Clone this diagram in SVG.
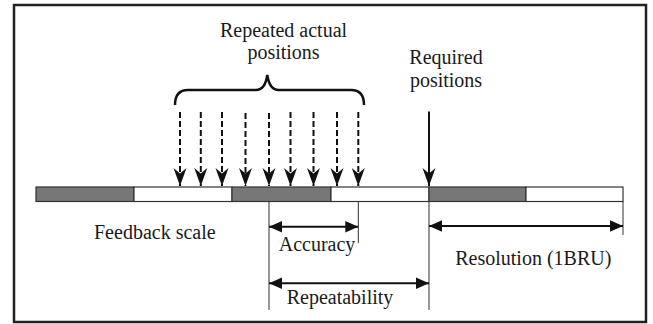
<svg xmlns="http://www.w3.org/2000/svg" width="653" height="324" viewBox="0 0 653 324">
  <style>
    .lbl { font-family: "Liberation Serif", "Times New Roman", serif; font-size: 20px; fill: #1a1a1a; }
    .dash { stroke: #111; stroke-width: 2; stroke-dasharray: 6 3; fill: none; }
    .solid { stroke: #111; stroke-width: 2; fill: none; }
    .dim { stroke: #111; stroke-width: 2; fill: none; }
    .ext { stroke: #333; stroke-width: 1; fill: none; }
    .dark { fill: #777777; stroke: #333; stroke-width: 1.2; }
    .light { fill: #ffffff; stroke: #333; stroke-width: 1.2; }
  </style>
  <defs>
    <marker id="stealth" markerUnits="userSpaceOnUse" viewBox="-19 -8 20 16" markerWidth="20" markerHeight="16" refX="0" refY="0" orient="auto">
      <path d="M0,0 L-18,-6.5 L-12.5,0 L-18,6.5 Z" fill="#111"/>
    </marker>
    <marker id="tri" markerUnits="userSpaceOnUse" viewBox="-14 -7 15 14" markerWidth="15" markerHeight="14" refX="0" refY="0" orient="auto-start-reverse">
      <path d="M0,0 L-13,-5.8 L-13,5.8 Z" fill="#111"/>
    </marker>
  </defs>

  <rect id="frame" x="14" y="5" width="632" height="317" fill="#fff" stroke="#222" stroke-width="2.5"/>

  <g id="feedback-scale">
    <rect class="dark" x="36" y="187" width="98" height="14.5"/>
    <rect class="light" x="134" y="187" width="98" height="14.5"/>
    <rect class="dark" x="232" y="187" width="99" height="14.5"/>
    <rect class="light" x="331" y="187" width="98" height="14.5"/>
    <rect class="dark" x="429" y="187" width="97" height="14.5"/>
    <rect class="light" x="526" y="187" width="97" height="14.5"/>
    <text class="lbl" x="94" y="238.5">Feedback scale</text>
  </g>

  <g id="repeated-actual-positions">
    <text class="lbl" x="283.5" y="37.3" text-anchor="middle">Repeated actual</text>
    <text class="lbl" x="283.5" y="59" text-anchor="middle">positions</text>
    <path d="M175,105 C175,96 178,90 188,90 L256,90 C263,90 266,84 267.3,75 C268.6,84 271.6,90 278.6,90 L351,90 C361,90 364,96 364,105" fill="none" stroke="#111" stroke-width="2.5"/>
  </g>

  <g id="required-positions">
    <text class="lbl" x="446" y="64" text-anchor="middle">Required</text>
    <text class="lbl" x="446" y="86.5" text-anchor="middle">positions</text>
  </g>

  <g id="connectors">
    <line class="dash" x1="180" y1="112" x2="180" y2="186" marker-end="url(#stealth)"/>
    <line class="dash" x1="200.8" y1="112" x2="200.8" y2="186" marker-end="url(#stealth)"/>
    <line class="dash" x1="222" y1="112" x2="222" y2="186" marker-end="url(#stealth)"/>
    <line class="dash" x1="245.5" y1="113" x2="245.5" y2="186" marker-end="url(#stealth)"/>
    <line class="dash" x1="269" y1="113" x2="269" y2="186" marker-end="url(#stealth)"/>
    <line class="dash" x1="290.5" y1="112" x2="290.5" y2="186" marker-end="url(#stealth)"/>
    <line class="dash" x1="313.5" y1="112" x2="313.5" y2="186" marker-end="url(#stealth)"/>
    <line class="dash" x1="337" y1="112" x2="337" y2="186" marker-end="url(#stealth)"/>
    <line class="dash" x1="358.3" y1="112" x2="358.3" y2="186" marker-end="url(#stealth)"/>
    <line class="solid" x1="429" y1="111.5" x2="429" y2="186" marker-end="url(#stealth)"/>

    <line class="ext" x1="269" y1="201.5" x2="269" y2="310"/>
    <line class="ext" x1="358.3" y1="201.5" x2="358.3" y2="243"/>
    <line class="ext" x1="429" y1="201.5" x2="429" y2="310"/>
    <line class="ext" x1="623" y1="201.5" x2="623" y2="235"/>

    <line class="dim" x1="269" y1="226.7" x2="358.3" y2="226.7" marker-start="url(#tri)" marker-end="url(#tri)"/>
    <line class="dim" x1="429" y1="226" x2="623" y2="226" marker-start="url(#tri)" marker-end="url(#tri)"/>
    <line class="dim" x1="269" y1="283.3" x2="429" y2="283.3" marker-start="url(#tri)" marker-end="url(#tri)"/>
  </g>

  <g id="accuracy">
    <text class="lbl" x="317" y="250.5" text-anchor="middle">Accuracy</text>
  </g>
  <g id="resolution">
    <text class="lbl" x="533.3" y="265" text-anchor="middle">Resolution (1BRU)</text>
  </g>
  <g id="repeatability">
    <text class="lbl" x="340" y="303.5" text-anchor="middle">Repeatability</text>
  </g>
</svg>
